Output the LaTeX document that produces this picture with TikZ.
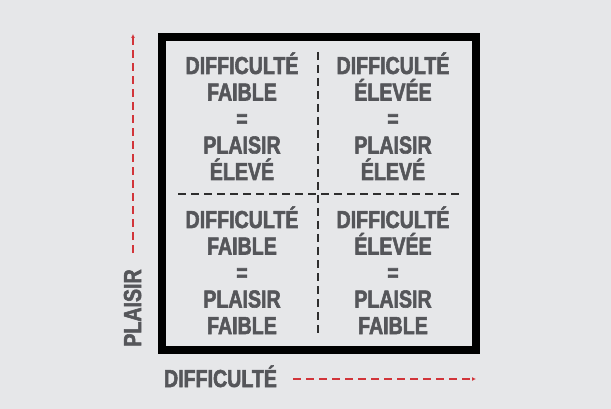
\documentclass[tikz,border=0pt]{standalone}
\usepackage{fontspec}
\usetikzlibrary{arrows.meta}
\newfontfamily\lblfont[FakeStretch=0.8,BoldFeatures={FakeBold=2.2}]{Liberation Sans}
\definecolor{bgcol}{HTML}{E6E7E9}
\definecolor{txtcol}{HTML}{55565A}
\definecolor{axiscol}{HTML}{D2353A}
\definecolor{splitcol}{HTML}{2E2E2E}
\begin{document}
\begin{tikzpicture}[x=1pt,y=-1pt,
  lbl/.style={text=txtcol,inner sep=0pt,font=\lblfont\bfseries\fontsize{24.5}{26.5}\selectfont},
  axis/.style={draw=axiscol,line width=1.3pt,dash pattern=on 8pt off 5pt,-{Latex[length=4pt,width=4pt]}},
  split/.style={draw=splitcol,line width=1.2pt,dash pattern=on 8pt off 5pt},
  frame/.style={draw=black,line width=8pt}]
  \useasboundingbox (0,0) rectangle (611,409);
  \fill[bgcol] (0,0) rectangle (611,409);

  % outer frame
  \draw[frame] (162,37) rectangle (476,350);

  % quadrant separators
  \coordinate (vtop) at (318,52);
  \coordinate (vbot) at (318,335);
  \coordinate (hleft) at (178,194);
  \coordinate (hright) at (462,194);
  \draw[split] (vtop) -- (vbot);
  \draw[split] (hleft) -- (hright);

  % quadrant texts, one node per line
  \foreach \t [count=\k] in {DIFFICULTÉ,FAIBLE,=,PLAISIR,ÉLEVÉ}
    \node[lbl,anchor=base] (tl\k) at (242,{74+26.5*(\k-1)}) {\t};
  \foreach \t [count=\k] in {DIFFICULTÉ,ÉLEVÉE,=,PLAISIR,ÉLEVÉ}
    \node[lbl,anchor=base] (tr\k) at (393,{74+26.5*(\k-1)}) {\t};
  \foreach \t [count=\k] in {DIFFICULTÉ,FAIBLE,=,PLAISIR,FAIBLE}
    \node[lbl,anchor=base] (bl\k) at (242,{228+26.5*(\k-1)}) {\t};
  \foreach \t [count=\k] in {DIFFICULTÉ,ÉLEVÉE,=,PLAISIR,FAIBLE}
    \node[lbl,anchor=base] (br\k) at (393,{228+26.5*(\k-1)}) {\t};

  % axis labels
  \node[lbl,anchor=base] (xlab) at (220.5,387) {DIFFICULTÉ};
  \node[lbl,anchor=base,rotate=90] (ylab) at (141,308) {PLAISIR};

  % axis arrows
  \coordinate (xs) at (293,379);
  \coordinate (xe) at (476,379);
  \coordinate (ys) at (133,253);
  \coordinate (ye) at (133,34);
  \draw[axis] (xs) -- (xe);
  \draw[axis] (ys) -- (ye);
\end{tikzpicture}
\end{document}
